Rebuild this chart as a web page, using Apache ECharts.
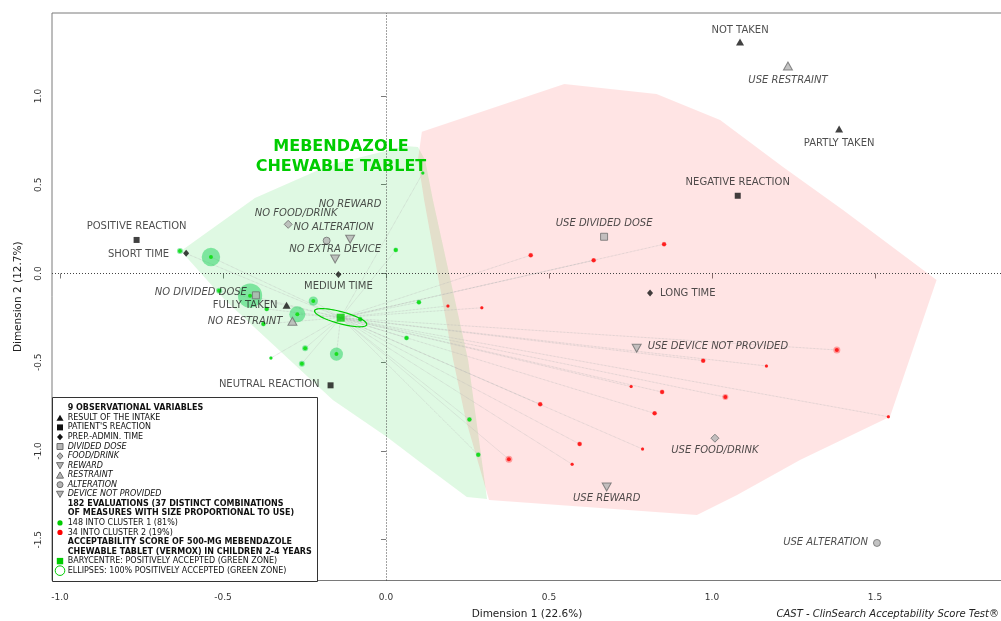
<!DOCTYPE html>
<html>
<head>
<meta charset="utf-8">
<title>CAST - Mebendazole chewable tablet</title>
<script src="https://cdn.jsdelivr.net/npm/echarts@6.0.0/dist/echarts.min.js"></script>
<style>
  html, body { margin: 0; padding: 0; background: #fff; }
  #chart { width: 1001px; height: 621px; }
</style>
</head>
<body>
<div id="chart"></div>
<script>
// tick labels
var xTicks = [-1.0, -0.5, 0.0, 0.5, 1.0, 1.5];
var yTicks = [-1.5, -1.0, -0.5, 0.0, 0.5, 1.0];

// 9 observational variables
var variables = ["RESULT OF THE INTAKE", "PATIENT'S REACTION", "PREP.-ADMIN. TIME", "DIVIDED DOSE",
  "FOOD/DRINK", "REWARD", "RESTRAINT", "ALTERATION", "DEVICE NOT PROVIDED"];

// modalities (coordinates on dimension 1 / dimension 2)
var modNames = ["NOT TAKEN", "PARTLY TAKEN", "FULLY TAKEN",
  "POSITIVE REACTION", "NEUTRAL REACTION", "NEGATIVE REACTION",
  "SHORT TIME", "MEDIUM TIME", "LONG TIME",
  "NO DIVIDED DOSE", "USE DIVIDED DOSE",
  "NO FOOD/DRINK", "USE FOOD/DRINK",
  "NO REWARD", "USE REWARD",
  "NO RESTRAINT", "USE RESTRAINT",
  "NO ALTERATION", "USE ALTERATION",
  "NO EXTRA DEVICE", "USE DEVICE NOT PROVIDED"];
var modVar = [0, 0, 0, 1, 1, 1, 2, 2, 2, 3, 3, 4, 4, 5, 5, 6, 6, 7, 7, 8, 8];
var modX = [1.086, 1.390, -0.305, -0.765, -0.170, 1.079, -0.613, -0.146, 0.810, -0.399, 0.669,
  -0.300, 1.009, -0.110, 0.677, -0.287, 1.233, -0.182, 1.506, -0.156, 0.769];
var modY = [1.304, 0.814, -0.179, 0.189, -0.630, 0.438, 0.114, -0.005, -0.110, -0.123, 0.207,
  0.277, -0.928, 0.193, -1.203, -0.269, 1.169, 0.185, -1.518, 0.082, -0.421];

// evaluations - cluster 1 (green), n = number of evaluations
var c1X = [-0.632, -0.537, -0.512, -0.417, -0.366, -0.376, -0.272, -0.223, -0.079, 0.030,
  0.101, 0.063, -0.248, -0.353, -0.258, -0.152, 0.256, 0.283, 0.113];
var c1Y = [0.127, 0.093, -0.097, -0.125, -0.200, -0.285, -0.230, -0.155, -0.258, 0.132,
  -0.162, -0.363, -0.421, -0.476, -0.508, -0.454, -0.823, -1.021, 0.566];
var c1N = [3, 28, 3, 48, 2, 2, 21, 7, 2, 2, 2, 2, 3, 1, 3, 14, 2, 2, 1];

// evaluations - cluster 2 (red)
var c2X = [0.444, 0.637, 0.853, 0.190, 0.294, 0.752, 0.847, 0.473, 0.824, 1.383,
  0.973, 1.167, 1.041, 1.541, 0.787, 0.594, 0.377, 0.571];
var c2Y = [0.103, 0.074, 0.165, -0.183, -0.193, -0.637, -0.668, -0.737, -0.788, -0.431,
  -0.491, -0.521, -0.696, -0.807, -0.989, -0.961, -1.047, -1.075];
var c2N = [2, 2, 2, 1, 1, 1, 2, 2, 2, 4, 2, 1, 3, 1, 1, 2, 4, 1];

var barycentre = [-0.139, -0.249];
var ellipseAxes = [[0.080, -0.0394], [-0.00475, -0.0327]];

// zones (hull outlines)
var greenZone = [[-0.629, 0.127], [-0.402, 0.425], [-0.172, 0.611], [0.058, 0.718], [0.098, 0.713],
  [0.120, 0.639], [0.144, 0.414], [0.252, -0.487], [0.310, -1.270], [0.248, -1.259],
  [0.104, -1.062], [0.003, -0.921], [-0.163, -0.713], [-0.494, -0.149]];
var redZone = [[0.110, 0.799], [0.547, 1.068], [0.830, 1.011], [1.025, 0.865], [1.218, 0.600],
  [1.402, 0.358], [1.689, -0.037], [1.546, -0.807], [1.270, -1.051], [1.077, -1.248],
  [0.954, -1.361], [0.316, -1.276], [0.245, -0.825], [0.206, -0.487], [0.117, 0.414], [0.098, 0.639]];

// legend rows
var legendRows = ["9 OBSERVATIONAL VARIABLES", "RESULT OF THE INTAKE", "PATIENT'S REACTION",
  "PREP.-ADMIN. TIME", "DIVIDED DOSE", "FOOD/DRINK", "REWARD", "RESTRAINT", "ALTERATION",
  "DEVICE NOT PROVIDED", "182 EVALUATIONS (37 DISTINCT COMBINATIONS",
  "OF MEASURES WITH SIZE PROPORTIONAL TO USE)", "148 INTO CLUSTER 1 (81%)",
  "34 INTO CLUSTER 2 (19%)", "ACCEPTABILITY SCORE OF 500-MG MEBENDAZOLE",
  "CHEWABLE TABLET (VERMOX) IN CHILDREN 2-4 YEARS",
  "BARYCENTRE: POSITIVELY ACCEPTED (GREEN ZONE)",
  "ELLIPSES: 100% POSITIVELY ACCEPTED (GREEN ZONE)"];

// ---- styles ----
var FONT = "DejaVu Sans";
var GREEN = "#00cc00";
var varSymbol = ["triangle", "rect", "diamond", "rect", "diamond", "triangle", "triangle", "circle", "triangle"];
var varRotate = [0, 0, 0, 0, 0, 180, 0, 0, 180];
var varSize = [[8, 7], [6, 6], [6, 7], [7, 7], [8, 8], [9, 8], [9, 8], [7, 7], [9, 8]];
var black = { color: "#111" };
var gray = { color: "#b4b4b4", borderColor: "#6e6e6e", borderWidth: 1 };

// label placement: [dx, dy, align]
var modLabelAt = [[0, -12, "center"], [0, 14, "center"], [-9, 0, "right"],
  [0, -14, "center"], [-11, -1, "right"], [0, -13, "center"],
  [-17, 1, "right"], [0, 12.5, "center"], [10, 0, "left"],
  [-9, -3, "right"], [0, -13, "center"],
  [8, -11, "center"], [0, 12.5, "center"],
  [0, -35, "center"], [0, 11.5, "center"],
  [-10, 0, "right"], [0, 14, "center"],
  [7, -13, "center"], [-9, -1, "right"],
  [0, -10, "center"], [11, -2, "left"]];

var modData = modNames.map(function (name, i) {
  var v = modVar[i];
  var at = modLabelAt[i];
  return {
    name: name,
    value: [modX[i], modY[i]],
    symbol: varSymbol[v],
    symbolRotate: varRotate[v],
    symbolSize: varSize[v],
    itemStyle: v < 3 ? black : gray,
    label: {
      show: true,
      formatter: name,
      position: "inside",
      offset: [at[0], at[1]],
      align: at[2],
      verticalAlign: "middle",
      fontFamily: FONT,
      fontSize: 10,
      color: "#222",
      fontStyle: v < 3 ? "normal" : "italic"
    }
  };
});

function points(xs, ys, ns) {
  return xs.map(function (x, i) { return [x, ys[i], ns[i]]; });
}
var c1 = points(c1X, c1Y, c1N);
var c2 = points(c2X, c2Y, c2N);

var links = c1.concat(c2).map(function (p) {
  return { coords: [barycentre, [p[0], p[1]]] };
});

function zone(pts, fill) {
  return {
    type: "custom",
    silent: true,
    z: 1,
    data: [[0, 0]],
    renderItem: function (params, api) {
      return {
        type: "polygon",
        shape: { points: pts.map(function (p) { return api.coord(p); }) },
        style: { fill: fill }
      };
    }
  };
}

function haloSize(v) { return 2 * 1.75 * Math.sqrt(v[2]); }
function dotSize(v) { return v[2] > 1 ? 4 : 3; }

// ---- legend drawn as graphic ----
var legendGraphic = [{
  type: "rect",
  shape: { x: 52.5, y: 397.5, width: 265, height: 184 },
  style: { fill: "#fff", stroke: "#333", lineWidth: 1 },
  z: 100
}];
var legendBold = [0, 10, 11, 14, 15];
var legendItalic = [4, 5, 6, 7, 8, 9];
var legendSym = [null, "tri", "sq", "dia", "gsq", "gdia", "gdtri", "gtri", "gcirc", "gdtri",
  null, null, "gdot", "rdot", null, null, "greensq", "ring"];
legendRows.forEach(function (txt, i) {
  var y = 408.3 + i * 9.55;
  var x = 60;
  legendGraphic.push({
    type: "text", z: 101, x: 67.7, y: y,
    style: {
      text: txt, fill: "#111", fontFamily: FONT, fontSize: 8,
      fontWeight: legendBold.indexOf(i) >= 0 ? "bold" : "normal",
      fontStyle: legendItalic.indexOf(i) >= 0 ? "italic" : "normal",
      verticalAlign: "middle", align: "left"
    }
  });
  var s = legendSym[i];
  if (!s) return;
  var g = s.charAt(0) === "g" && s !== "greensq";
  var fill = g ? "#b4b4b4" : "#111";
  var stroke = g ? "#6e6e6e" : null;
  var el = null;
  if (s === "tri" || s === "gtri") {
    el = { type: "polygon", shape: { points: [[x - 3.5, y + 3], [x + 3.5, y + 3], [x, y - 3.2]] } };
  } else if (s === "gdtri") {
    el = { type: "polygon", shape: { points: [[x - 3.5, y - 3], [x + 3.5, y - 3], [x, y + 3.2]] } };
  } else if (s === "sq" || s === "gsq") {
    el = { type: "rect", shape: { x: x - 3, y: y - 3, width: 6, height: 6 } };
  } else if (s === "dia" || s === "gdia") {
    el = { type: "polygon", shape: { points: [[x, y - 3.3], [x + 3, y], [x, y + 3.3], [x - 3, y]] } };
  } else if (s === "gcirc") {
    el = { type: "circle", shape: { cx: x, cy: y, r: 3 } };
  } else if (s === "gdot") {
    el = { type: "circle", shape: { cx: x, cy: y, r: 2.6 } }; fill = GREEN; stroke = null;
  } else if (s === "rdot") {
    el = { type: "circle", shape: { cx: x, cy: y, r: 2.6 } }; fill = "#ff0000"; stroke = null;
  } else if (s === "greensq") {
    el = { type: "rect", shape: { x: x - 3.2, y: y - 3.2, width: 6.4, height: 6.4 } }; fill = GREEN; stroke = null;
  } else if (s === "ring") {
    el = { type: "circle", shape: { cx: x, cy: y, r: 4.8 } }; fill = "none"; stroke = GREEN;
  }
  el.z = 101;
  el.style = { fill: fill, stroke: stroke, lineWidth: 1 };
  legendGraphic.push(el);
});

legendGraphic.push({
  type: "text", z: 101, x: 341, y: 157,
  style: {
    text: "MEBENDAZOLE\nCHEWABLE TABLET", fill: GREEN, fontFamily: FONT, fontSize: 16,
    fontWeight: "bold", align: "center", verticalAlign: "middle", lineHeight: 20
  }
});
legendGraphic.push({
  type: "text", z: 101, x: 999, y: 614,
  style: {
    text: "CAST - ClinSearch Acceptability Score Test\u00ae", fill: "#222", fontFamily: FONT,
    fontSize: 10, fontStyle: "italic", align: "right", verticalAlign: "middle"
  }
});

var chart = echarts.init(document.getElementById("chart"), null, { renderer: "canvas" });

var option = {
  animation: false,
  textStyle: { fontFamily: FONT },
  grid: {
    left: 52, top: 13, right: -1, bottom: 40.5,
    outerBoundsMode: "none",
    containLabel: false,
    show: true, borderColor: "#7a7a7a", borderWidth: 1, backgroundColor: "transparent"
  },
  xAxis: {
    type: "value",
    min: -1.0245, max: 1.8896,
    name: "Dimension 1 (22.6%)",
    nameLocation: "middle",
    nameGap: 28,
    nameTextStyle: { fontFamily: FONT, fontSize: 10.5, color: "#222" },
    axisLine: { show: false },
    splitLine: { show: false },
    axisTick: { show: true, length: 5, customValues: xTicks, lineStyle: { color: "#7a7a7a" } },
    axisLabel: {
      customValues: xTicks, margin: 13, fontSize: 9, color: "#333", fontFamily: FONT,
      formatter: function (v) { return v.toFixed(1); }
    }
  },
  yAxis: {
    type: "value",
    min: -1.7296, max: 1.4676,
    name: "Dimension 2 (12.7%)",
    nameLocation: "middle",
    nameGap: 28,
    nameRotate: 90,
    nameTextStyle: { fontFamily: FONT, fontSize: 10.5, color: "#222" },
    axisLine: { show: false },
    splitLine: { show: false },
    axisTick: { show: true, length: 5, customValues: yTicks, lineStyle: { color: "#7a7a7a" } },
    axisLabel: {
      customValues: yTicks, margin: 9, fontSize: 9, color: "#333", fontFamily: FONT, rotate: 90,
      formatter: function (v) { return v.toFixed(1); }
    }
  },
  graphic: legendGraphic,
  series: [
    zone(greenZone, "rgba(0, 205, 30, 0.125)"),
    zone(redZone, "rgba(255, 0, 0, 0.106)"),
    {
      type: "lines",
      coordinateSystem: "cartesian2d",
      silent: true,
      z: 2,
      data: links,
      lineStyle: { color: "#b8b8b8", width: 0.7, type: "dotted", opacity: 0.8 },
      markLine: {
        silent: true,
        symbol: "none",
        label: { show: false },
        lineStyle: { color: "#444", width: 1, type: [1, 2] },
        data: [{ xAxis: 0 }, { yAxis: 0 }]
      }
    },
    {
      type: "scatter", silent: true, z: 3,
      data: c1, symbolSize: haloSize,
      itemStyle: { color: "rgba(0, 205, 70, 0.55)" }
    },
    {
      type: "scatter", silent: true, z: 3,
      data: c2, symbolSize: haloSize,
      itemStyle: { color: "rgba(255, 0, 0, 0.4)" }
    },
    {
      type: "scatter", silent: true, z: 4,
      data: c1, symbolSize: dotSize,
      itemStyle: { color: "#00dd00" }
    },
    {
      type: "scatter", silent: true, z: 4,
      data: c2, symbolSize: dotSize,
      itemStyle: { color: "#ff0000" }
    },
    {
      type: "custom", silent: true, z: 5,
      data: [barycentre],
      renderItem: function (params, api) {
        var pts = [];
        for (var i = 0; i <= 72; i++) {
          var t = i / 72 * 2 * Math.PI;
          pts.push(api.coord([
            barycentre[0] + ellipseAxes[0][0] * Math.cos(t) + ellipseAxes[1][0] * Math.sin(t),
            barycentre[1] + ellipseAxes[0][1] * Math.cos(t) + ellipseAxes[1][1] * Math.sin(t)
          ]));
        }
        return { type: "polyline", shape: { points: pts }, style: { fill: null, stroke: GREEN, lineWidth: 1.2 } };
      }
    },
    {
      type: "scatter", silent: true, z: 6,
      data: [barycentre], symbol: "rect", symbolSize: 8,
      itemStyle: { color: GREEN }
    },
    {
      type: "scatter", silent: true, z: 7,
      data: modData
    }
  ]
};

chart.setOption(option);
</script>
</body>
</html>
